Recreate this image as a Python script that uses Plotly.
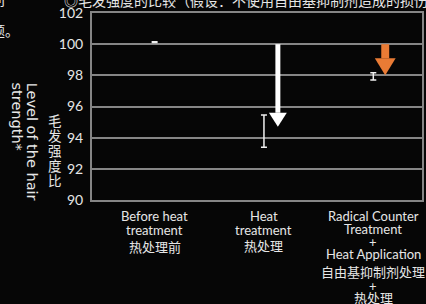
import plotly.graph_objects as go

# ---- data ----
categories = [
    ["Before heat", "treatment", "热处理前"],
    ["Heat", "treatment", "热处理"],
    ["Radical Counter", "Treatment", "+", "Heat Application", "自由基抑制剂处理", "+", "热处理"],
]
means = [100.13, 94.42, 97.93]
errors = [0.02, 1.03, 0.23]
y_ticks = [90, 92, 94, 96, 98, 100, 102]
arrow_category = [1, 2]
arrow_start = [100, 100]
arrow_tip = [94.7, 98.0]
arrow_colors = ["#ffffff", "#e97b35"]

title_text = "◎毛发强度的比较（假设：不使用自由基抑制剂造成的损伤）"
ytitle_en = ["Level of the hair", "strength*"]
ytitle_cn = "毛发强度比"

# ---- layout geometry ----
W, H = 426, 304
ML, MR, MT, MB = 92, 2, 13, 104
PW, PH = W - ML - MR, H - MT - MB
X0_PX = 155.0          # pixel of category 0
PPX = 110.0            # px per category
xr = [(ML - X0_PX) / PPX, (ML + PW - X0_PX) / PPX]
yr = [90, 102]
PPY = PH / (yr[1] - yr[0])

FONT = "Lato, 'Noto Sans CJK SC', sans-serif"
FONT_WIDE = "'DejaVu Sans', sans-serif"
TXT = "#e6e6e6"
GRID = "#858585"
BG = "#060606"

fig = go.Figure()
fig.add_trace(go.Scatter(
    x=list(range(len(categories))), y=means, mode="markers",
    marker=dict(size=1, color="rgba(0,0,0,0)"),
    error_y=dict(type="data", array=errors, visible=True, color="#f0f0f0",
                 thickness=1.5, width=3),
    showlegend=False, hoverinfo="skip",
))

shapes = []
# arrows (shaft + head) in data coordinates
arrow_style = [  # (x offset px, shaft half px, head half px, head len px)
    (14, 2.5, 9, 14),
    (12, 4.0, 10.5, 17),
]
for i, (cat, y0, tip, col) in enumerate(zip(arrow_category, arrow_start, arrow_tip, arrow_colors)):
    off, sh, hh, hl = arrow_style[i]
    xc = cat + off / PPX
    base = tip + hl / PPY
    shapes.append(dict(type="rect", xref="x", yref="y",
                       x0=xc - sh / PPX, x1=xc + sh / PPX, y0=base, y1=y0,
                       fillcolor=col, line=dict(width=0)))
    shapes.append(dict(type="path", xref="x", yref="y",
                       path=f"M {xc - hh / PPX},{base} L {xc + hh / PPX},{base} L {xc},{tip} Z",
                       fillcolor=col, line=dict(width=0)))

annotations = []
# category labels, line by line
line_px = [
    [216, 230, 247],
    [216, 230, 246],
    [216, 229, 242, 254, 272, 286, 298],
]
for i, lines in enumerate(categories):
    for j, t in enumerate(lines):
        annotations.append(dict(
            x=i, xref="x", y=0, yref="paper", yanchor="middle", xanchor="center",
            yshift=-(line_px[i][j] - (MT + PH)), text=t, showarrow=False,
            font=dict(family=FONT, size=13, color=TXT)))

def px_x(px):
    return (px - ML) / PW

def px_y(py):
    return (MT + PH - py) / PH

# rotated english y title
for t, cx in zip(ytitle_en, [32, 17]):
    annotations.append(dict(
        x=px_x(cx), xref="paper", y=px_y(81), yref="paper",
        xanchor="center", yanchor="top", text=t, textangle=90, showarrow=False,
        font=dict(family=FONT_WIDE, size=14.5, color=TXT)))
# stacked chinese y title
for k, ch in enumerate(ytitle_cn):
    annotations.append(dict(
        x=px_x(55), xref="paper", y=px_y(121 + 15 * k), yref="paper",
        xanchor="center", yanchor="middle", text=ch, showarrow=False,
        font=dict(family=FONT, size=13.5, color=TXT)))

# clipped surrounding page text
annotations.append(dict(
    x=px_x(62), xref="paper", y=px_y(1), yref="paper", xanchor="left", yanchor="middle",
    text=title_text, showarrow=False, font=dict(family=FONT, size=14, color=TXT)))
annotations.append(dict(
    x=px_x(6), xref="paper", y=px_y(0), yref="paper", xanchor="right", yanchor="middle",
    text="问", showarrow=False, font=dict(family=FONT, size=14, color=TXT)))
annotations.append(dict(
    x=px_x(21), xref="paper", y=px_y(30), yref="paper", xanchor="right", yanchor="middle",
    text="题。", showarrow=False, font=dict(family=FONT, size=14, color=TXT)))

fig.update_layout(
    width=W, height=H,
    margin=dict(l=ML, r=MR, t=MT, b=MB, pad=0),
    paper_bgcolor=BG, plot_bgcolor=BG,
    xaxis=dict(range=xr, showgrid=False, zeroline=False, showticklabels=False,
               showline=True, mirror=True, linecolor=GRID, linewidth=2, ticks=""),
    yaxis=dict(range=yr, tickvals=y_ticks, ticktext=[str(v) for v in y_ticks],
               showgrid=True, gridcolor=GRID, gridwidth=2, zeroline=False,
               showline=True, mirror=True, linecolor=GRID, linewidth=2,
               ticks="outside", ticklen=4, tickcolor=BG,
               tickfont=dict(family=FONT, size=14, color=TXT)),
    shapes=shapes, annotations=annotations,
    showlegend=False,
)

fig.write_html("out.html", config={"displayModeBar": False},
               post_script="document.body.style.margin='0';document.body.style.background='#060606';")
